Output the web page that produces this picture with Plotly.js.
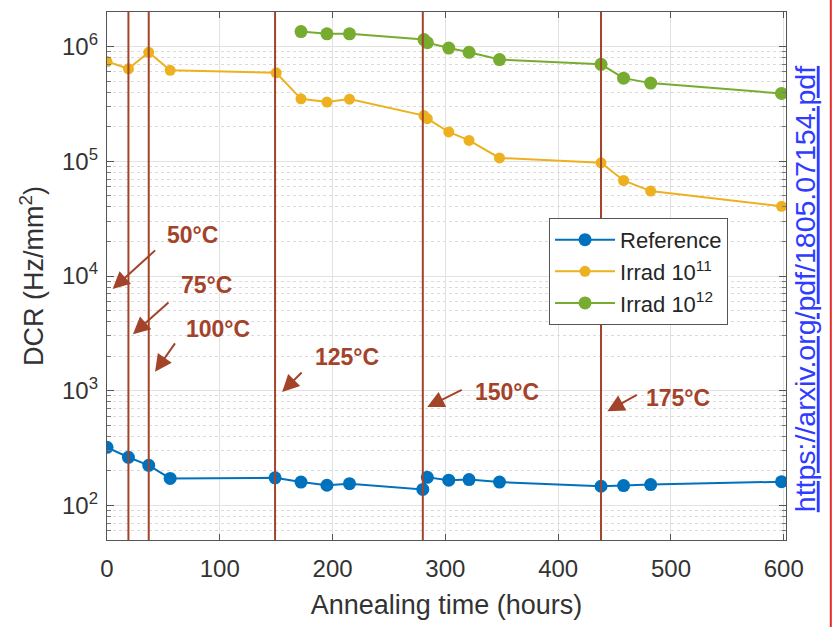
<!DOCTYPE html>
<html><head><meta charset="utf-8">
<script src="https://cdn.plot.ly/plotly-3.0.1.min.js"></script>
<style>html,body{margin:0;padding:0;background:#fff}</style>
</head><body><div id="chart" style="width:832px;height:627px"></div>
<script>
// Annealing time (hours) and DCR (Hz/mm^2)
const refHours  = [0, 19, 37, 56, 149, 172, 195, 215, 280, 284, 303, 321, 348, 438, 458, 482, 598];
const refDCR    = [321, 263, 224, 172, 174, 160, 150, 155, 138, 176, 166, 168, 160, 147, 149, 152, 161];
const irr11Hours = [0, 19, 37, 56, 150, 172, 195, 215, 281, 284, 303, 321, 348, 438, 458, 482, 598];
const irr11DCR   = [740000, 640000, 890000, 620000, 590000, 350000, 328000, 348000, 250000, 235000, 180000, 152000, 107000, 97000, 68000, 55000, 40500];
const irr12Hours = [172, 195, 215, 281, 284, 303, 321, 348, 438, 458, 482, 598];
const irr12DCR   = [1350000, 1290000, 1290000, 1150000, 1080000, 970000, 890000, 770000, 700000, 530000, 480000, 390000];
// Start of each annealing step (hours) and its temperature label
const stepHours  = [19, 37, 149, 280, 438];
const labelText  = ['50°C', '75°C', '100°C', '125°C', '150°C', '175°C'];
// arrow tips (hours, DCR) and label text positions (hours, DCR)
const tipHours   = [5, 23, 42.6, 155.3, 283.9, 443.6];
const tipDCR     = [7700, 3110, 1460, 975, 720, 664];
const textHours  = [76.2, 87.8, 98.4, 212.8, 354.6, 506.2];
const textDCR    = [22750, 8360, 3450, 1970, 975, 865];
const tailDx     = [44, 37, 21, 21, 36, 31];
const tailDy     = [-40, -33, -30, -21, -18, -17];
const yTickVals  = [1e2, 1e3, 1e4, 1e5, 1e6];
const yTickText  = ['10<sup>2</sup>', '10<sup>3</sup>', '10<sup>4</sup>', '10<sup>5</sup>', '10<sup>6</sup>'];
const xTickVals  = [0, 100, 200, 300, 400, 500, 600];
const sourceUrl  = 'https://arxiv.org/pdf/1805.07154.pdf';

const minorVals = [];
for (let e = 1; e <= 6; e++) for (let m = 2; m <= 9; m++) minorVals.push(m * Math.pow(10, e));

const FONT = 'Liberation Sans, Arial, Helvetica, sans-serif';
const anneal = '#a3432a';

const traces = [
  {x: refHours, y: refDCR, name: 'Reference', mode: 'lines+markers',
   line: {color: '#0072BD', width: 2}, marker: {color: '#0072BD', size: 13}},
  {x: irr11Hours, y: irr11DCR, name: 'Irrad 10<sup>11</sup>', mode: 'lines+markers',
   line: {color: '#EDB120', width: 2}, marker: {color: '#EDB120', size: 11}},
  {x: irr12Hours, y: irr12DCR, name: 'Irrad 10<sup>12</sup>', mode: 'lines+markers',
   line: {color: '#77AC30', width: 2}, marker: {color: '#77AC30', size: 13}}
];

const shapes = stepHours.map(h => ({type: 'line', xref: 'x', yref: 'paper', x0: h, x1: h, y0: 0, y1: 1,
  line: {color: anneal, width: 2}, layer: 'above'}));
shapes.push({type: 'line', xref: 'paper', yref: 'paper', x0: 1.066, x1: 1.066, y0: 1.03, y1: -0.165,
  line: {color: '#e52a2a', width: 2}});

const annotations = [];
labelText.forEach((t, i) => {
  annotations.push({
    x: tipHours[i], y: Math.log10(tipDCR[i]), xref: 'x', yref: 'y',
    text: '', showarrow: true, ax: tailDx[i], ay: tailDy[i],
    arrowhead: 2, arrowsize: 1.7, arrowwidth: 2, arrowcolor: anneal, standoff: 0
  });
  annotations.push({
    x: textHours[i], y: Math.log10(textDCR[i]), xref: 'x', yref: 'y',
    text: '<b>' + t + '</b>', showarrow: false, xanchor: 'center', yanchor: 'middle',
    font: {family: FONT, size: 23, color: anneal}
  });
});
annotations.push({xref: 'paper', yref: 'paper', x: 1.028, y: 0.475, xanchor: 'center', yanchor: 'middle',
  text: sourceUrl, showarrow: false, textangle: -90,
  font: {family: FONT, size: 28.5, color: '#2f3cff', lineposition: 'under'}});

const layout = {
  width: 832, height: 627,
  margin: {l: 107, r: 46, t: 12, b: 87},
  paper_bgcolor: '#fff', plot_bgcolor: '#fff',
  font: {family: FONT, color: '#262626'},
  showlegend: true,
  legend: {x: 0.651, y: 0.61, xanchor: 'left', yanchor: 'top', bgcolor: '#fff',
    bordercolor: '#555', borderwidth: 1, font: {family: FONT, size: 22, color: '#262626'},
    itemwidth: 60, tracegroupgap: 0},
  xaxis: {range: [0, 602], tickvals: xTickVals, ticks: 'inside', ticklen: 6, tickcolor: '#555',
    mirror: 'ticks', showline: true, linecolor: '#555', linewidth: 1.2, ticklabelstandoff: 7,
    gridcolor: '#e2e2e2', zeroline: false, tickfont: {size: 24, color: '#333'},
    title: {text: 'Annealing time (hours)', font: {size: 27, color: '#333'}, standoff: 14}},
  yaxis: {type: 'log', range: [Math.log10(50), Math.log10(2e6)], tickmode: 'array',
    tickvals: yTickVals, ticktext: yTickText, ticks: 'inside', ticklen: 7, tickcolor: '#555',
    mirror: 'ticks', showline: true, linecolor: '#555', linewidth: 1.2, ticklabelstandoff: 3,
    gridcolor: '#e2e2e2', tickfont: {size: 24, color: '#333'},
    minor: {tickmode: 'array', tickvals: minorVals, ticks: 'inside', ticklen: 4, tickcolor: '#777',
      showgrid: true, gridcolor: '#dadada', griddash: 'dot', gridwidth: 1},
    title: {text: 'DCR (Hz/mm<sup>2</sup>)', font: {size: 27, color: '#333'}, standoff: 10}},
  shapes: shapes,
  annotations: annotations
};

Plotly.newPlot('chart', traces, layout, {displayModeBar: false, staticPlot: true});
</script></body></html>
